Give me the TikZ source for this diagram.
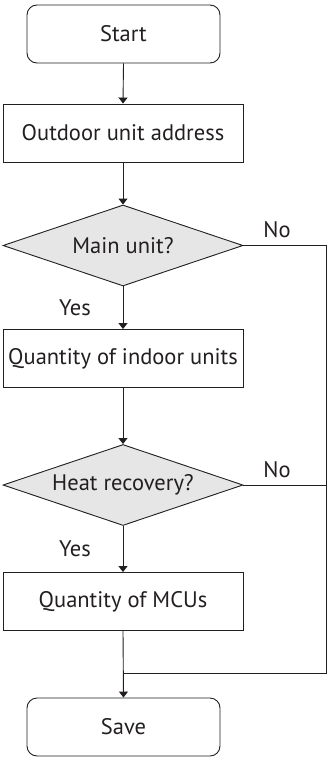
\documentclass[tikz,border=0pt]{standalone}
\usepackage{fontspec}
\setmainfont{PT Sans}
\usetikzlibrary{shapes.geometric,arrows.meta}
\definecolor{ink}{HTML}{231F20}
\definecolor{dfill}{HTML}{E6E6E6}
\tikzset{
  txt/.style={text=ink,font=\fontsize{22.5}{24}\selectfont},
  term/.style={txt,draw=ink,rounded corners=10pt,minimum width=193pt,minimum height=58pt,inner sep=0pt,line width=0.9pt},
  proc/.style={txt,draw=ink,minimum width=240pt,minimum height=58pt,inner sep=0pt,line width=0.9pt},
  dec/.style={txt,draw=ink,fill=dfill,diamond,aspect=2.96,minimum width=240pt,minimum height=81pt,inner sep=0pt,line width=0.9pt},
  lbl/.style={txt,inner sep=0pt},
  conn/.style={draw=ink,line width=0.9pt},
  arr/.style={conn,-{Triangle[width=9pt,length=6pt]}}
}
\begin{document}
\begin{tikzpicture}[x=1pt,y=-1pt]
\useasboundingbox (0,0) rectangle (327,757);
\node[term] (start) at (123.5,34) {Start};
\node[proc] (addr) at (123,133) {Outdoor unit address};
\node[dec] (d1) at (123,245.5) {Main unit?};
\node[proc] (qty) at (123,358.5) {Quantity of indoor units};
\node[dec] (d2) at (123,485) {Heat recovery?};
\node[proc] (mcu) at (123,601.5) {Quantity of MCUs};
\node[term] (save) at (123.5,727) {Save};
\coordinate (r1) at (326,245.5);
\coordinate (m) at (123,673);
\node[lbl] (no1) at (277,230) {No};
\node[lbl] (no2) at (277,470) {No};
\node[lbl] (yes1) at (75,308) {Yes};
\node[lbl] (yes2) at (75,549) {Yes};
\draw[arr] (start.south) -- (addr.north);
\draw[arr] (addr.south) -- (d1.north);
\draw[arr] (d1.south) -- (qty.north);
\draw[arr] (qty.south) -- (d2.north);
\draw[arr] (d2.south) -- (mcu.north);
\draw[arr] (mcu.south) -- (save.north);
\draw[conn] (d1.east) -- (r1) |- (m);
\draw[conn] (d2.east) -- (d2.east -| r1);
\end{tikzpicture}
\end{document}
